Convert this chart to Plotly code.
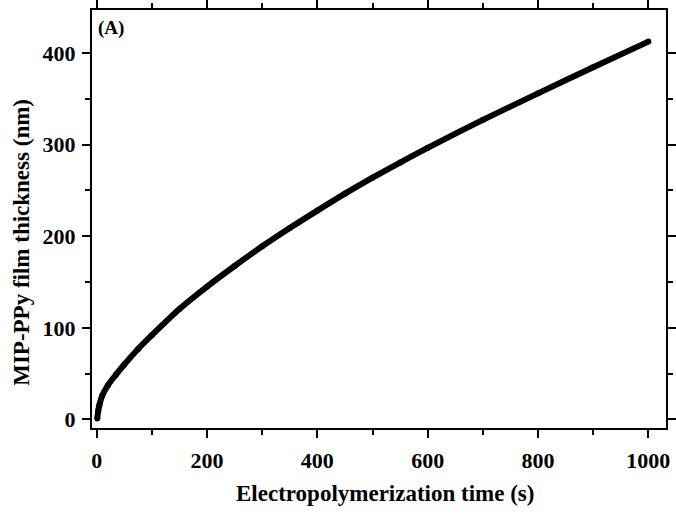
import plotly.graph_objects as go

# Film thickness versus electropolymerization time
time_s = [1, 3, 5, 10, 20, 35, 50, 75, 100, 150, 200, 250, 300, 350, 400,
          450, 500, 550, 600, 700, 800, 900, 1000]
thickness_nm = [1, 10, 16, 26, 37, 49, 60, 77, 92, 120.5, 145, 167.5, 189, 209, 228,
                246.5, 264, 280.5, 296.5, 327, 356, 384.5, 412.5]

x_ticks = [0, 200, 400, 600, 800, 1000]
y_ticks = [0, 100, 200, 300, 400]

FONT = "Liberation Serif"

fig = go.Figure()
fig.add_trace(go.Scatter(
    x=time_s, y=thickness_nm,
    mode="lines+markers",
    line=dict(color="black", width=6, shape="spline", smoothing=0.8),
    marker=dict(color="black", size=6),
    showlegend=False,
))

axis_common = dict(
    showline=True, linecolor="black", linewidth=2,
    mirror="ticks", ticks="outside", ticklen=8, tickwidth=2, tickcolor="black",
    showgrid=False, zeroline=False, automargin=False,
    tickfont=dict(family=FONT, size=22, color="black", weight="bold"),
)

fig.update_xaxes(
    range=[-8.5, 1032], tickvals=x_ticks, ticklabelstandoff=4,
    minor=dict(ticks="outside", ticklen=5, tickwidth=2, tickcolor="black", dtick=100, tick0=0),
    **axis_common,
)
fig.update_yaxes(
    range=[-9.3, 447], tickvals=y_ticks, ticklabelstandoff=2,
    minor=dict(ticks="outside", ticklen=5, tickwidth=2, tickcolor="black", dtick=50, tick0=0),
    **axis_common,
)

title_font = dict(family=FONT, size=23, color="black", weight="bold")

# Axis titles
fig.add_annotation(
    text="Electropolymerization time (s)", xref="paper", yref="paper",
    x=0.51, y=0, yshift=-65, xanchor="center", yanchor="middle",
    showarrow=False, font=title_font,
)
fig.add_annotation(
    text="MIP-PPy film thickness (nm)", xref="paper", yref="paper",
    x=0, xshift=-70, y=0.443, xanchor="center", yanchor="middle",
    textangle=-90, showarrow=False, font=title_font,
)

# Panel label
fig.add_annotation(
    text="(A)", xref="paper", yref="paper", x=0, y=1, xshift=4, yshift=-18,
    xanchor="left", yanchor="middle", showarrow=False,
    font=dict(family=FONT, size=19, color="black", weight="bold"),
)

fig.update_layout(
    width=676, height=515,
    margin=dict(l=92, r=10, t=10, b=87),
    paper_bgcolor="white", plot_bgcolor="white",
)

fig.write_html("out.html")
